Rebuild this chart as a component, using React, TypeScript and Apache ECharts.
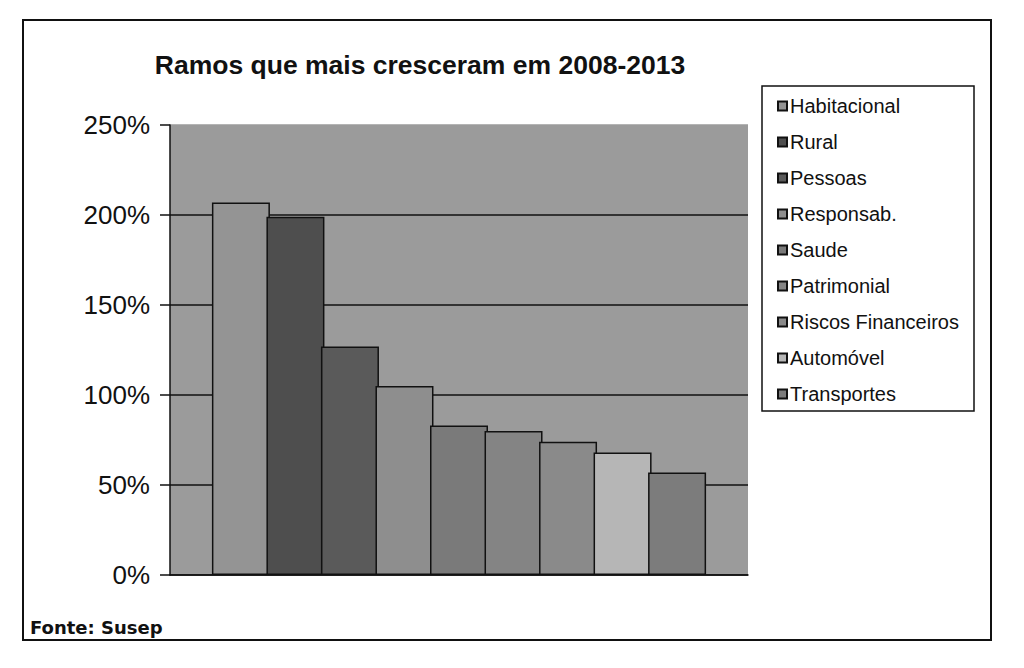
import React, { useEffect, useRef } from "react";
import * as echarts from "echarts";

const TITLE = "Ramos que mais cresceram em 2008-2013";
const SOURCE = "Fonte: Susep";
const CATEGORIES = [""];
const SERIES_NAMES = [
  "Habitacional",
  "Rural",
  "Pessoas",
  "Responsab.",
  "Saude",
  "Patrimonial",
  "Riscos Financeiros",
  "Automóvel",
  "Transportes",
];
const VALUES = [207, 199, 127, 105, 83, 80, 74, 68, 57];
const Y_TICKS = [0, 50, 100, 150, 200, 250];

const COLORS = [
  "#949494",
  "#4e4e4e",
  "#5a5a5a",
  "#8e8e8e",
  "#7a7a7a",
  "#848484",
  "#8a8a8a",
  "#b6b6b6",
  "#7c7c7c",
];
const PLOT_BG = "#9b9b9b";

export default function App() {
  const ref = useRef<HTMLDivElement>(null);
  useEffect(() => {
    if (!ref.current) return;
    const chart = echarts.init(ref.current, undefined, { renderer: "svg" });
    const font = "'Liberation Sans', Arial, sans-serif";
    chart.setOption({
      animation: false,
      backgroundColor: "#ffffff",
      title: {
        text: TITLE,
        left: 415,
        textAlign: "center",
        top: 46,
        textStyle: { fontFamily: font, fontWeight: "bold", fontSize: 26.5, color: "#111" },
      },
      graphic: [
        {
          type: "rect",
          shape: { x: 23, y: 20, width: 968, height: 620 },
          style: { fill: "none", stroke: "#111", lineWidth: 2 },
          z: 0,
        },
        {
          type: "rect",
          shape: { x: 762, y: 86, width: 212, height: 325 },
          style: { fill: "#fff", stroke: "#111", lineWidth: 1.5 },
          z: 1,
        },
        {
          type: "text",
          x: 30,
          y: 618,
          style: {
            text: SOURCE,
            font: "bold 18px 'DejaVu Sans', sans-serif",
            fill: "#111",
          },
          z: 2,
        },
      ],
      legend: {
        orient: "vertical",
        left: 772,
        top: 91,
        itemWidth: 9,
        itemHeight: 9,
        itemGap: 16,
        z: 10,
        textStyle: { fontFamily: font, fontSize: 20, color: "#111", lineHeight: 20, padding: [0, 0, 0, -2] },
        data: SERIES_NAMES.map((n) => ({ name: n, icon: "rect" })),
      },
      grid: {
        left: 170,
        right: 276,
        top: 125,
        bottom: 93,
        show: true,
        backgroundColor: PLOT_BG,
        borderWidth: 0,
        containLabel: false,
      },
      xAxis: {
        type: "category",
        data: CATEGORIES,
        axisLine: { show: true, lineStyle: { color: "#111", width: 1.5 } },
        axisTick: { show: false },
        axisLabel: { show: false },
        splitLine: { show: false },
      },
      yAxis: {
        type: "value",
        min: Y_TICKS[0],
        max: Y_TICKS[Y_TICKS.length - 1],
        interval: 50,
        axisLine: { show: true, lineStyle: { color: "#111", width: 1.5 } },
        axisTick: { show: true, inside: false, length: 10, lineStyle: { color: "#111", width: 1.5 } },
        axisLabel: {
          formatter: "{value}%",
          fontFamily: font,
          fontSize: 26,
          color: "#111",
          margin: 20,
        },
        splitLine: {
          show: true,
          lineStyle: {
            color: ["#111", "#111", "#111", "#111", "#111", PLOT_BG],
            width: 1.5,
          },
        },
      },
      series: SERIES_NAMES.map((name, i) => ({
        name,
        type: "bar",
        data: [VALUES[i]],
        barWidth: 58,
        barGap: "-6%",
        itemStyle: { color: COLORS[i], borderColor: "#111", borderWidth: 1.5 },
      })),
    });
    return () => chart.dispose();
  }, []);
  return (
    <div
      ref={ref}
      style={{ position: "fixed", left: 0, top: 0, width: 1024, height: 668 }}
    />
  );
}
